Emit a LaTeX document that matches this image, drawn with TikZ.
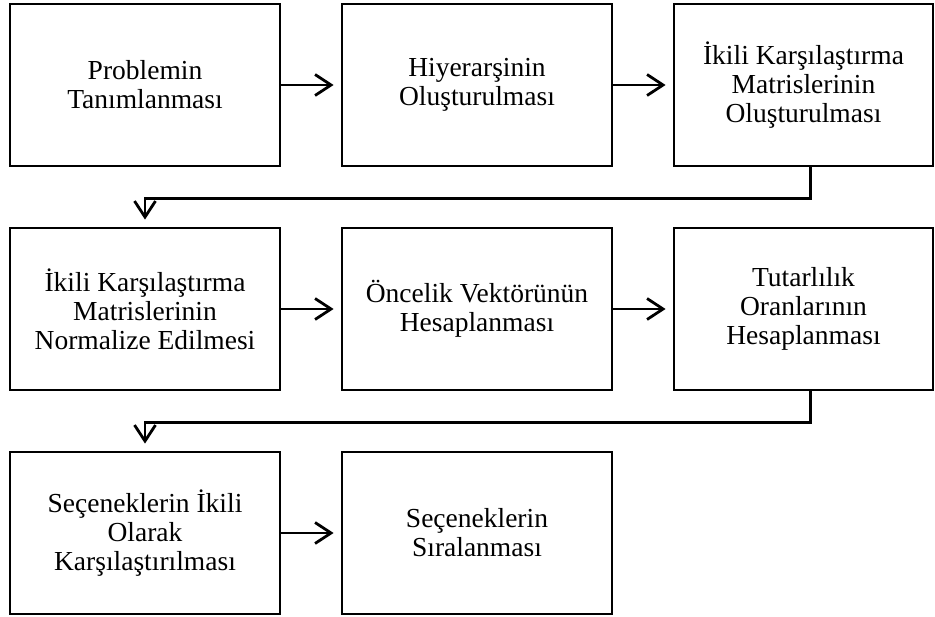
\documentclass[tikz,border=0pt]{standalone}
\usepackage{fontspec}
\setmainfont{Liberation Serif}
\usetikzlibrary{arrows.meta}

\begin{document}
\begin{tikzpicture}[x=1pt,y=-1pt]
      \tikzstyle{stage}=[draw,line width=2.8pt,minimum width=270pt,minimum height=162pt,align=center,
        font=\fontsize{27.5}{29}\selectfont]
      \tikzstyle{flow}=[line width=2.8pt,-{Straight Barb[length=16pt,width=21pt]},shorten >=7pt]
      \useasboundingbox (0,0) rectangle (935,617);
      \node[stage] (s_1) at (145,85) {Problemin\\Tanımlanması};
      \node[stage] (s_2) at (477,85) {Hiyerarşinin\\Oluşturulması};
      \node[stage,minimum width=259pt] (s_3) at (803.5,85) {İkili Karşılaştırma\\Matrislerinin\\Oluşturulması};
      \node[stage] (s_4) at (145,309) {İkili Karşılaştırma\\Matrislerinin\\Normalize Edilmesi};
      \node[stage] (s_5) at (477,309) {Öncelik Vektörünün\\Hesaplanması};
      \node[stage,minimum width=259pt] (s_6) at (803.5,309) {Tutarlılık\\Oranlarının\\Hesaplanması};
      \node[stage] (s_7) at (145,533) {Seçeneklerin İkili\\Olarak\\Karşılaştırılması};
      \node[stage] (s_8) at (477,533) {Seçeneklerin\\Sıralanması};
      \draw[flow] (s_1) -- (s_2);
      \draw[flow] (s_2) -- (s_3);
      \draw[flow] ([xshift=7pt]s_3.south) -- ++(0,31) -| (s_4.north);
      \draw[flow] (s_4) -- (s_5);
      \draw[flow] (s_5) -- (s_6);
      \draw[flow] ([xshift=7pt]s_6.south) -- ++(0,31) -| (s_7.north);
      \draw[flow] (s_7) -- (s_8);
    \end{tikzpicture}
\end{document}
